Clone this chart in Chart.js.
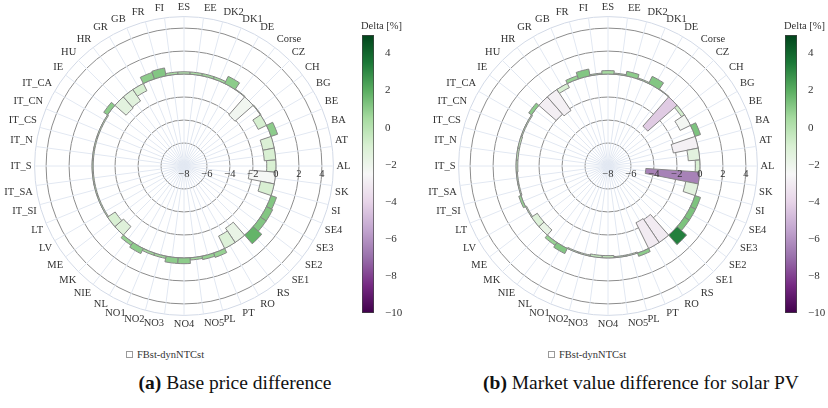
<!DOCTYPE html>
<html>
<head>
<meta charset="utf-8">
<script src="https://cdn.jsdelivr.net/npm/chart.js@4.4.1/dist/chart.umd.min.js"></script>
<style>
  html, body { margin: 0; padding: 0; background: #fff; }
  #page { position: relative; width: 828px; height: 408px; overflow: hidden; font-family: "Liberation Serif", "Times New Roman", serif; color: #333; }
  .abs { position: absolute; }
  .cbtitle { font-size: 10.5px; white-space: nowrap; }
  .legend { font-size: 10.5px; white-space: nowrap; display: flex; align-items: center; }
  .legend i { display: inline-block; width: 5px; height: 5px; border: 1px solid #9a9a9a; margin-right: 4px; }
  .caption { font-size: 19.5px; color: #111; white-space: nowrap; transform: translateX(-50%); }
</style>
</head>
<body>
<div id="page">
  <canvas id="polarA" class="abs" width="368" height="331" style="left:-5px;top:1px"></canvas>
  <canvas id="polarB" class="abs" width="368" height="331" style="left:419px;top:1px"></canvas>
  <canvas id="barA" class="abs" width="42" height="298" style="left:362px;top:25px"></canvas>
  <canvas id="barB" class="abs" width="42" height="298" style="left:785px;top:25px"></canvas>
  <div class="abs cbtitle" style="left:361px;top:20px">Delta [%]</div>
  <div class="abs cbtitle" style="left:784px;top:20px">Delta [%]</div>
  <div class="abs legend" style="left:126px;top:349px"><i></i>FBst-dynNTCst</div>
  <div class="abs legend" style="left:548px;top:349px"><i></i>FBst-dynNTCst</div>
  <div class="abs caption" style="left:235px;top:372px"><b>(a)</b> Base price difference</div>
  <div class="abs caption" style="left:641px;top:372px"><b>(b)</b> Market value difference for solar PV</div>
</div>
<script>
// Bidding zones, alphabetical
const zones = ['AL','AT','BA','BE','BG','CH','CZ','Corse','DE','DK1','DK2','EE','ES','FI','FR','GB',
  'GR','HR','HU','IE','IT_CA','IT_CN','IT_CS','IT_N','IT_S','IT_SA','IT_SI','LT','LV','ME','MK','NIE',
  'NL','NO1','NO2','NO3','NO4','NO5','PL','PT','RO','RS','SE1','SE2','SE3','SE4','SI','SK'];

// (a) base price: radial difference and relative difference [%]
const basePriceDelta = [-0.8,-1.0,-1.0,0.6,-0.8,0.05,-2.1,0.05,0.7,0.2,0.2,0.2,0.2,0.2,0.7,0.6,
  -0.7,-1.2,-1.3,0.4,-0.1,-0.1,-0.1,-0.1,-0.1,-0.1,-0.1,-0.1,-0.1,-0.8,-1.0,0.3,
  0.5,0.2,0.2,0.5,0.5,0.2,0.3,0.4,-1.2,-1.5,1.0,0.6,0.6,0.5,-1.2,-2.3];
const basePricePct = [-1.0,-1.0,-1.1,1.0,-0.9,0.0,-2.2,0.0,1.0,0.6,0.6,0.4,0.2,0.4,1.2,1.0,
  -0.9,-1.4,-1.5,1.0,-0.2,-0.2,-0.2,-0.2,-0.2,-0.2,-0.2,-0.2,-0.2,-1.0,-1.3,0.8,
  1.0,0.6,0.6,1.0,1.0,0.6,0.8,0.8,-1.2,-1.8,1.8,1.2,1.2,1.2,-1.0,-2.4];

// (b) solar PV market value: radial difference and relative difference [%]
const solarValueDelta = [-0.4,-1.0,-2.2,0.5,-1.0,-0.3,-3.4,0.05,0.7,0.1,0.4,0.1,0.3,0.1,0.6,0.3,
  -0.4,-2.2,-2.0,0.3,-0.1,-0.1,-0.15,-0.15,-0.15,-0.1,-0.1,0.2,-0.1,-0.6,-0.6,0.3,
  0.5,-0.1,-0.1,-0.2,-0.2,-0.1,-0.1,0.3,-2.5,-2.4,1.1,0.5,0.5,0.5,-1.1,-4.7];
const solarValuePct = [-1.0,-1.5,-2.8,1.3,-2.3,-0.8,-4.3,0.0,1.2,0.3,1.0,0.3,0.5,0.3,1.2,0.8,
  -1.0,-2.8,-2.9,1.0,-0.3,-0.3,-0.3,-0.3,-0.3,-0.3,-0.3,0.8,-0.3,-1.2,-1.8,0.8,
  1.2,-0.3,-0.3,-0.3,-0.3,-0.3,-0.3,1.0,-3.0,-3.0,3.3,1.3,1.3,1.3,-1.5,-6.5];

// Axis ticks
const radialTicks = [-8, -6, -4, -2, 0, 2, 4];
const radialRange = [-8, 5];
const colorRange = [-10, 5];

const seriesName = 'FBst-dynNTCst';

// Purple-green diverging colour scale
const PRGn = [[0,[64,0,75]],[0.1,[118,42,131]],[0.2,[153,112,171]],[0.3,[194,165,207]],
  [0.4,[231,212,232]],[0.5,[247,247,247]],[0.6,[217,240,211]],[0.7,[166,219,160]],
  [0.8,[90,174,97]],[0.9,[27,120,55]],[1,[0,68,27]]];

function scaleColor(v) {
  let t = (v - colorRange[0]) / (colorRange[1] - colorRange[0]);
  t = Math.max(0, Math.min(1, t));
  for (let i = 1; i < PRGn.length; i++) {
    if (t <= PRGn[i][0]) {
      const [t0, c0] = PRGn[i - 1], [t1, c1] = PRGn[i];
      const f = (t - t0) / (t1 - t0);
      const c = c0.map((a, k) => Math.round(a + (c1[k] - a) * f));
      return `rgb(${c[0]},${c[1]},${c[2]})`;
    }
  }
  return 'rgb(0,68,27)';
}

const fmt = v => (v < 0 ? '\u2212' + Math.abs(v) : String(v));

// Zones are laid out counter-clockwise from AL on the right; the radial scale
// runs clockwise, so AL goes last and the rest follow in reverse.
const clockwise = arr => [...arr.slice(1).reverse(), arr[0]];

// Polar bars that start at r = 0 instead of the centre of the scale
class FloatingPolarController extends Chart.PolarAreaController {
  updateElements(arcs, start, count, mode) {
    const scale = this._cachedMeta.rScale;
    const base = scale.getDistanceFromCenterForValue(0);
    const half = Math.PI / this.chart.data.labels.length;
    for (let i = start; i < start + count; i++) {
      const d = scale.getDistanceFromCenterForValue(this.getParsed(i).r);
      const mid = scale.getIndexAngle(i) - Math.PI / 2;
      this.updateElement(arcs[i], i, {
        x: scale.xCenter,
        y: scale.yCenter,
        innerRadius: Math.min(base, d),
        outerRadius: Math.max(base, d),
        startAngle: mid - half,
        endAngle: mid + half,
        options: this.resolveDataElementOptions(i, arcs[i].active ? 'active' : mode)
      }, mode);
    }
  }
}
FloatingPolarController.id = 'floatingPolar';
FloatingPolarController.defaults = Chart.PolarAreaController.defaults;
Chart.register(FloatingPolarController);

// Radial tick labels written beneath the 0-degree spoke
const radialTickLabels = {
  id: 'radialTickLabels',
  afterDatasetsDraw(chart) {
    const s = chart.scales.r;
    const ctx = chart.ctx;
    ctx.save();
    ctx.font = '10.5px "Liberation Serif"';
    ctx.fillStyle = '#333';
    ctx.textAlign = 'center';
    ctx.textBaseline = 'top';
    radialTicks.forEach(v => {
      ctx.fillText(fmt(v), s.xCenter + s.getDistanceFromCenterForValue(v), s.yCenter + 3);
    });
    ctx.restore();
  }
};

function polarChart(id, delta, pct) {
  return new Chart(document.getElementById(id), {
    type: 'polarArea',
    data: {
      labels: clockwise(zones),
      datasets: [{
        type: 'floatingPolar',
        label: seriesName,
        data: clockwise(delta),
        backgroundColor: clockwise(pct).map(scaleColor),
        borderColor: '#858585',
        borderWidth: 1
      }]
    },
    options: {
      responsive: false,
      animation: false,
      devicePixelRatio: 1,
      layout: { padding: 0 },
      plugins: { legend: { display: false }, tooltip: { enabled: false } },
      scales: {
        r: {
          min: radialRange[0],
          max: radialRange[1],
          startAngle: 97.5,
          ticks: { display: false, stepSize: 2 },
          grid: {
            circular: true,
            lineWidth: 1,
            color: c => (c.tick && c.tick.value === radialRange[1] ? '#d3dae7' : '#8c8c8c')
          },
          angleLines: { display: true, color: '#e2e8f2', lineWidth: 1 },
          pointLabels: {
            display: true,
            padding: 3,
            color: '#333',
            font: { family: 'Liberation Serif', size: 10.5 }
          }
        }
      }
    },
    plugins: [radialTickLabels]
  });
}

function colorBar(id) {
  return new Chart(document.getElementById(id), {
    type: 'bar',
    data: {
      labels: [''],
      datasets: [{
        data: [colorRange],
        backgroundColor: c => {
          const { chart } = c;
          const area = chart.chartArea;
          if (!area) return null;
          const y = chart.scales.y;
          const g = chart.ctx.createLinearGradient(0, y.getPixelForValue(colorRange[0]), 0, y.getPixelForValue(colorRange[1]));
          PRGn.forEach(([t, c]) => g.addColorStop(t, `rgb(${c[0]},${c[1]},${c[2]})`));
          return g;
        },
        borderColor: '#444',
        borderWidth: 1,
        borderSkipped: false,
        barPercentage: 1,
        categoryPercentage: 1
      }]
    },
    options: {
      responsive: false,
      animation: false,
      devicePixelRatio: 1,
      layout: { padding: { left: 0, right: 0, top: 10, bottom: 10 } },
      plugins: { legend: { display: false }, tooltip: { enabled: false } },
      scales: {
        x: { display: false },
        y: {
          position: 'right',
          min: colorRange[0],
          max: colorRange[1],
          grid: { display: false },
          border: { display: false },
          afterFit: s => { s.width = 30; },
          ticks: {
            stepSize: 2,
            padding: 3,
            color: '#333',
            font: { family: 'Liberation Serif', size: 11 },
            callback: v => (v === colorRange[1] ? '' : fmt(v))
          }
        }
      }
    }
  });
}

polarChart('polarA', basePriceDelta, basePricePct);
polarChart('polarB', solarValueDelta, solarValuePct);
colorBar('barA');
colorBar('barB');
</script>
</body>
</html>
